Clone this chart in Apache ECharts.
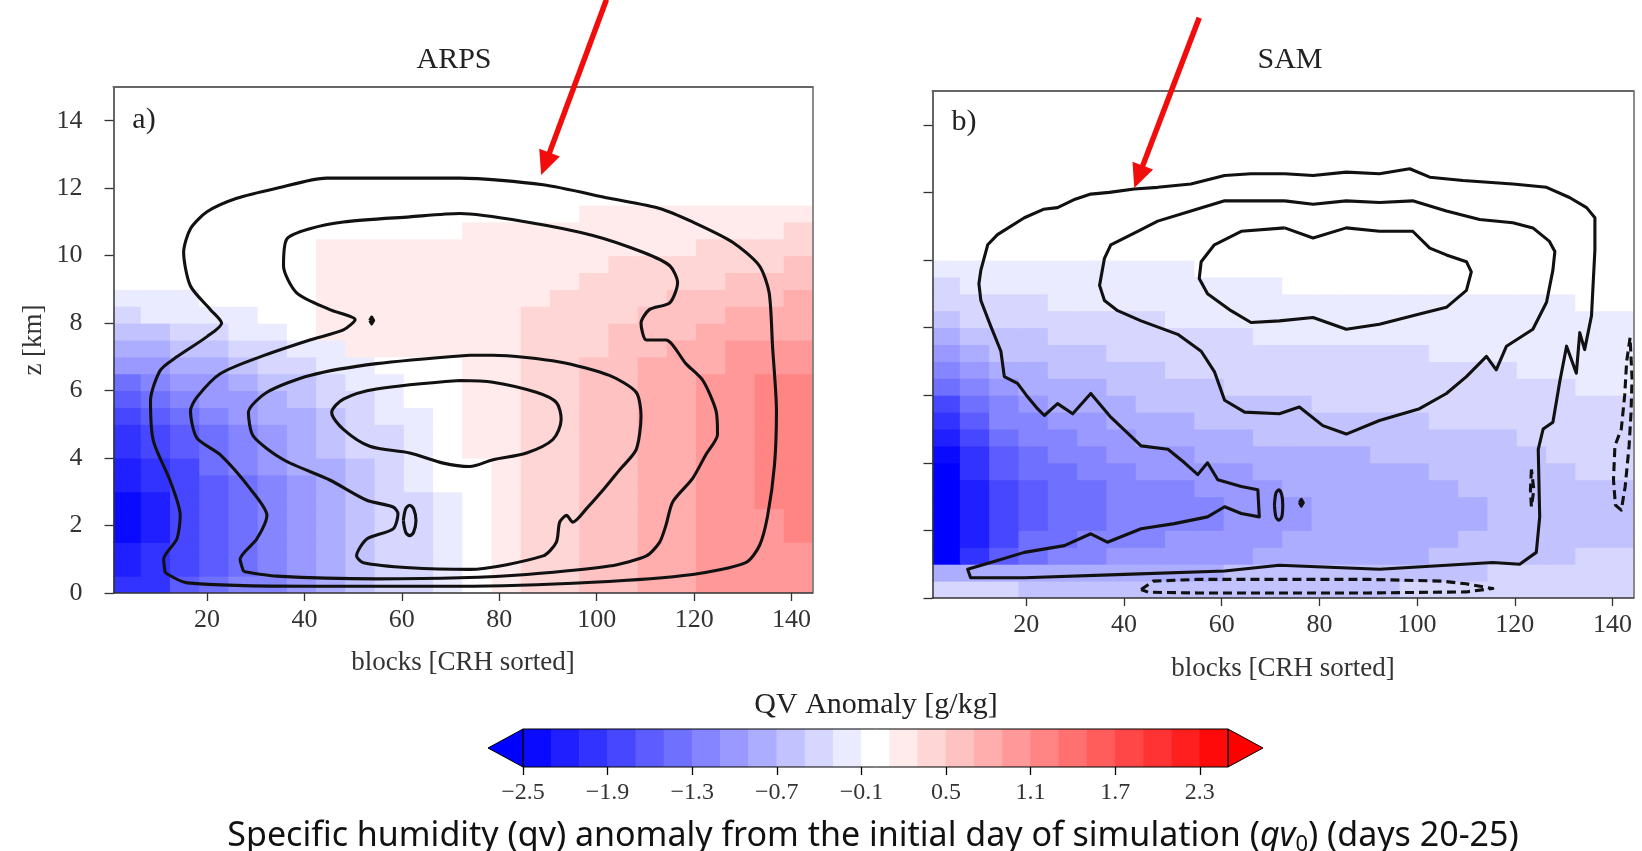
<!DOCTYPE html>
<html><head><meta charset="utf-8">
<script src="https://cdn.jsdelivr.net/npm/echarts@6/dist/echarts.min.js"></script>
<style>html,body{margin:0;padding:0;background:#fff}#c{width:1642px;height:851px}</style>
</head><body><div id="c"></div>
<script>
// ---------- data ----------
const xCenters = [3.5,9.5,15.5,21.5,27.5,33.5,39.5,45.5,51.5,57.5,63.5,69.5,75.5,81.5,87.5,93.5,99.5,105.5,111.5,117.5,123.5,129.5,135.5,141.5];
const zCenters = [0.25,0.75,1.25,1.75,2.25,2.75,3.25,3.75,4.25,4.75,5.25,5.75,6.25,6.75,7.25,7.75,8.25,8.75,9.25,9.75,10.25,10.75,11.25,11.75];
const xTickValues = [20,40,60,80,100,120,140];
const zTickValues = [0,2,4,6,8,10,12,14];
const qvLevels = [-2.5,-2.3,-2.1,-1.9,-1.7,-1.5,-1.3,-1.1,-0.9,-0.7,-0.5,-0.3,-0.1,0.1,0.3,0.5,0.7,0.9,1.1,1.3,1.5,1.7,1.9,2.1,2.3,2.5];
const cbTickValues = [-2.5,-1.9,-1.3,-0.7,-0.1,0.5,1.1,1.7,2.3];

// ARPS qv anomaly (rows = zCenters, cols = xCenters)
const arpsQV = [
[-2.1,-2.0,-1.7,-1.5,-1.3,-1.2,-1.0,-0.8,-0.6,-0.5,-0.35,-0.15,0.05,0.25,0.35,0.45,0.55,0.6,0.7,0.8,0.9,0.95,1.0,1.0],
[-2.2,-2.1,-1.8,-1.6,-1.4,-1.2,-1.0,-0.8,-0.6,-0.5,-0.35,-0.15,0.05,0.25,0.35,0.45,0.55,0.65,0.7,0.8,0.9,1.0,1.0,1.05],
[-2.3,-2.1,-1.8,-1.6,-1.4,-1.2,-1.0,-0.8,-0.6,-0.5,-0.35,-0.15,0.05,0.25,0.35,0.45,0.55,0.65,0.7,0.8,0.9,1.0,1.05,1.05],
[-2.4,-2.2,-1.9,-1.6,-1.4,-1.2,-1.0,-0.8,-0.6,-0.5,-0.35,-0.15,0.05,0.25,0.35,0.45,0.55,0.65,0.75,0.85,0.9,1.0,1.05,1.1],
[-2.4,-2.2,-1.9,-1.6,-1.4,-1.2,-1.0,-0.8,-0.6,-0.5,-0.35,-0.15,0.05,0.25,0.35,0.45,0.55,0.65,0.75,0.85,0.95,1.0,1.05,1.1],
[-2.4,-2.2,-1.9,-1.6,-1.4,-1.2,-1.0,-0.8,-0.6,-0.5,-0.35,-0.15,0.05,0.25,0.35,0.45,0.55,0.65,0.75,0.85,0.95,1.0,1.1,1.1],
[-2.3,-2.1,-1.8,-1.6,-1.4,-1.2,-1.0,-0.8,-0.6,-0.45,-0.3,-0.1,0.05,0.25,0.35,0.45,0.55,0.65,0.75,0.85,0.95,1.05,1.1,1.15],
[-2.2,-2.0,-1.8,-1.5,-1.3,-1.1,-0.9,-0.75,-0.55,-0.4,-0.25,-0.1,0.05,0.25,0.35,0.45,0.55,0.65,0.75,0.85,0.95,1.05,1.1,1.15],
[-2.1,-1.9,-1.7,-1.5,-1.3,-1.1,-0.9,-0.7,-0.5,-0.4,-0.25,-0.05,0.1,0.25,0.35,0.45,0.55,0.65,0.75,0.85,0.95,1.05,1.15,1.2],
[-2.0,-1.8,-1.6,-1.4,-1.2,-1.0,-0.85,-0.65,-0.5,-0.35,-0.2,-0.05,0.1,0.25,0.35,0.45,0.55,0.65,0.75,0.85,0.95,1.05,1.15,1.2],
[-1.8,-1.7,-1.5,-1.3,-1.1,-0.9,-0.75,-0.6,-0.45,-0.3,-0.15,0.0,0.1,0.25,0.3,0.4,0.5,0.6,0.7,0.8,0.9,1.0,1.1,1.15],
[-1.6,-1.5,-1.3,-1.1,-0.95,-0.8,-0.65,-0.5,-0.4,-0.25,-0.1,0.0,0.1,0.25,0.3,0.4,0.5,0.6,0.7,0.8,0.9,1.0,1.1,1.15],
[-1.4,-1.3,-1.1,-0.95,-0.8,-0.65,-0.55,-0.4,-0.3,-0.2,-0.05,0.05,0.15,0.25,0.3,0.4,0.5,0.6,0.7,0.8,0.9,1.0,1.1,1.15],
[-1.1,-1.0,-0.9,-0.75,-0.6,-0.5,-0.4,-0.3,-0.2,-0.1,0.0,0.05,0.15,0.25,0.3,0.4,0.5,0.6,0.7,0.75,0.85,0.95,1.05,1.05],
[-0.9,-0.8,-0.7,-0.55,-0.45,-0.35,-0.25,-0.15,0.15,0.15,0.15,0.15,0.2,0.25,0.3,0.35,0.45,0.55,0.65,0.7,0.8,0.9,0.95,0.95],
[-0.6,-0.55,-0.45,-0.35,-0.25,-0.15,-0.05,0.15,0.15,0.15,0.15,0.15,0.2,0.25,0.3,0.35,0.45,0.5,0.6,0.65,0.75,0.8,0.85,0.85],
[-0.35,-0.3,-0.25,-0.2,-0.15,-0.05,0.0,0.15,0.15,0.15,0.15,0.15,0.2,0.25,0.3,0.35,0.4,0.45,0.55,0.6,0.65,0.7,0.75,0.8],
[-0.15,-0.15,-0.15,-0.1,0.0,0.0,0.0,0.15,0.15,0.15,0.15,0.15,0.2,0.2,0.25,0.3,0.35,0.4,0.45,0.5,0.55,0.6,0.65,0.7],
[0,0,0,0,0,0,0,0.15,0.15,0.15,0.15,0.15,0.2,0.2,0.25,0.25,0.3,0.35,0.4,0.4,0.45,0.5,0.55,0.6],
[0,0,0,0,0,0,0,0.15,0.15,0.15,0.15,0.15,0.15,0.2,0.2,0.2,0.25,0.3,0.3,0.35,0.35,0.4,0.45,0.5],
[0,0,0,0,0,0,0,0.15,0.15,0.15,0.15,0.15,0.15,0.15,0.15,0.2,0.2,0.2,0.25,0.25,0.3,0.3,0.35,0.4],
[0,0,0,0,0,0,0,0,0,0,0,0,0.15,0.15,0.15,0.15,0.15,0.15,0.2,0.2,0.2,0.25,0.25,0.3],
[0,0,0,0,0,0,0,0,0,0,0,0,0,0.05,0.05,0.05,0.15,0.15,0.15,0.15,0.15,0.15,0.15,0.2],
[0,0,0,0,0,0,0,0,0,0,0,0,0,0,0,0,0,0,0,0,0,0,0,0]
];

// SAM qv anomaly
const samQV = [
[-0.35,-0.4,-0.5,-0.55,-0.6,-0.6,-0.6,-0.6,-0.6,-0.6,-0.6,-0.6,-0.55,-0.55,-0.55,-0.55,-0.5,-0.5,-0.45,-0.45,-0.4,-0.4,-0.4,-0.4],
[-0.9,-0.9,-0.9,-0.8,-0.8,-0.75,-0.75,-0.75,-0.75,-0.75,-0.7,-0.7,-0.7,-0.65,-0.65,-0.65,-0.6,-0.55,-0.55,-0.5,-0.5,-0.45,-0.45,-0.45],
[-2.6,-2.0,-1.6,-1.4,-1.3,-1.2,-1.1,-1.0,-1.0,-1.0,-0.95,-0.9,-0.85,-0.8,-0.8,-0.75,-0.75,-0.7,-0.65,-0.6,-0.6,-0.55,-0.5,-0.5],
[-2.7,-2.2,-1.8,-1.5,-1.4,-1.3,-1.2,-1.2,-1.1,-1.1,-1.0,-0.95,-0.9,-0.85,-0.85,-0.8,-0.8,-0.75,-0.7,-0.65,-0.65,-0.6,-0.55,-0.55],
[-2.7,-2.3,-1.9,-1.6,-1.5,-1.4,-1.3,-1.3,-1.2,-1.2,-1.1,-1.0,-0.95,-0.9,-0.9,-0.85,-0.85,-0.8,-0.75,-0.7,-0.7,-0.65,-0.6,-0.6],
[-2.7,-2.3,-1.9,-1.6,-1.5,-1.4,-1.3,-1.3,-1.2,-1.15,-1.1,-1.0,-0.95,-0.9,-0.9,-0.85,-0.85,-0.8,-0.75,-0.7,-0.7,-0.65,-0.6,-0.6],
[-2.7,-2.2,-1.8,-1.6,-1.45,-1.35,-1.25,-1.2,-1.15,-1.1,-1.0,-0.95,-0.9,-0.85,-0.85,-0.8,-0.8,-0.75,-0.7,-0.7,-0.65,-0.6,-0.55,-0.55],
[-2.6,-2.1,-1.7,-1.5,-1.4,-1.3,-1.2,-1.1,-1.05,-1.0,-0.95,-0.9,-0.85,-0.8,-0.8,-0.75,-0.75,-0.7,-0.65,-0.65,-0.6,-0.55,-0.5,-0.5],
[-2.5,-2.0,-1.6,-1.4,-1.3,-1.2,-1.1,-1.0,-0.95,-0.9,-0.85,-0.8,-0.8,-0.75,-0.75,-0.7,-0.7,-0.65,-0.6,-0.6,-0.55,-0.5,-0.5,-0.45],
[-2.3,-1.8,-1.5,-1.3,-1.2,-1.1,-1.0,-0.9,-0.85,-0.8,-0.75,-0.7,-0.7,-0.65,-0.65,-0.65,-0.6,-0.6,-0.55,-0.55,-0.5,-0.45,-0.45,-0.4],
[-2.1,-1.6,-1.3,-1.15,-1.05,-0.95,-0.9,-0.8,-0.75,-0.7,-0.65,-0.65,-0.6,-0.6,-0.6,-0.55,-0.55,-0.5,-0.5,-0.5,-0.45,-0.4,-0.4,-0.4],
[-1.8,-1.4,-1.15,-1.0,-0.9,-0.85,-0.8,-0.7,-0.65,-0.6,-0.6,-0.55,-0.55,-0.5,-0.5,-0.5,-0.5,-0.45,-0.45,-0.45,-0.4,-0.4,-0.35,-0.35],
[-1.5,-1.2,-1.0,-0.9,-0.8,-0.75,-0.7,-0.6,-0.55,-0.55,-0.5,-0.5,-0.45,-0.45,-0.45,-0.45,-0.45,-0.4,-0.4,-0.4,-0.35,-0.35,-0.3,-0.3],
[-1.2,-1.0,-0.85,-0.75,-0.7,-0.65,-0.6,-0.55,-0.5,-0.45,-0.45,-0.4,-0.4,-0.4,-0.4,-0.4,-0.4,-0.35,-0.35,-0.35,-0.3,-0.3,-0.25,-0.25],
[-1.0,-0.8,-0.7,-0.65,-0.6,-0.55,-0.5,-0.45,-0.45,-0.4,-0.4,-0.35,-0.35,-0.35,-0.35,-0.35,-0.35,-0.3,-0.3,-0.3,-0.25,-0.25,-0.2,-0.2],
[-0.8,-0.65,-0.6,-0.55,-0.5,-0.45,-0.45,-0.4,-0.4,-0.35,-0.35,-0.3,-0.3,-0.3,-0.3,-0.3,-0.3,-0.25,-0.25,-0.25,-0.2,-0.2,-0.2,-0.2],
[-0.6,-0.5,-0.45,-0.45,-0.4,-0.4,-0.35,-0.35,-0.3,-0.3,-0.3,-0.25,-0.25,-0.25,-0.25,-0.25,-0.25,-0.2,-0.2,-0.2,-0.2,-0.15,-0.15,-0.15],
[-0.45,-0.4,-0.35,-0.35,-0.3,-0.3,-0.3,-0.25,-0.25,-0.25,-0.2,-0.2,-0.15,-0.15,-0.15,-0.15,-0.15,-0.15,-0.15,-0.15,-0.15,-0.15,-0.05,-0.05],
[-0.35,-0.3,-0.25,-0.25,-0.2,-0.2,-0.2,-0.2,-0.2,-0.15,-0.15,-0.15,0,0,0,0,0,0,0,0,0,0,0,0],
[-0.2,-0.15,-0.15,-0.15,-0.15,-0.15,-0.15,-0.15,-0.15,0,0,0,0,0,0,0,0,0,0,0,0,0,0,0],
[0,0,0,0,0,0,0,0,0,0,0,0,0,0,0,0,0,0,0,0,0,0,0,0],
[0,0,0,0,0,0,0,0,0,0,0,0,0,0,0,0,0,0,0,0,0,0,0,0],
[0,0,0,0,0,0,0,0,0,0,0,0,0,0,0,0,0,0,0,0,0,0,0,0],
[0,0,0,0,0,0,0,0,0,0,0,0,0,0,0,0,0,0,0,0,0,0,0,0]
];

// ARPS contour lines [block, z km]
const arpsC1 = [[11.4,0.6],[11.1,1.0],[13.8,1.6],[14.5,2.3],[12.5,3.3],[9.0,4.5],[8.4,5.7],[10.4,6.6],[13.8,7.0],[20,7.6],[23,8.0],[20.7,8.4],[16.6,9.1],[15.2,10.1],[16.6,10.8],[20,11.3],[26.1,11.7],[34.3,12.0],[44.5,12.3],[60,12.3],[71.9,12.3],[89,12.1],[102.6,11.7],[112.9,11.4],[119.7,11.0],[127.9,10.4],[133.4,9.7],[135.4,8.9],[136.1,7.3],[136.9,5.4],[136.5,3.8],[135.1,2.3],[133.4,1.4],[130.6,0.9],[119.7,0.55],[99.2,0.32],[71.9,0.2],[41.1,0.2],[15.9,0.3],[11.4,0.6]];
const arpsC2 = [[27.5,0.64],[26.8,1.0],[30.2,1.6],[32.3,2.3],[28.8,3.1],[22.7,4.1],[17.9,4.6],[16.6,5.4],[17.9,5.8],[22.7,6.5],[30.9,7.0],[41.1,7.5],[48,7.8],[50.4,8.1],[45.2,8.4],[38.4,8.9],[35.7,9.7],[36.4,10.5],[41.1,10.8],[48,11.0],[61.6,11.15],[71.9,11.25],[85.6,11.0],[99.2,10.6],[109.5,10.1],[115,9.7],[116.6,9.2],[115,8.6],[110.8,8.4],[109.1,8.0],[110.2,7.5],[114.2,7.5],[118.3,6.8],[121.8,6.3],[124.5,5.4],[124.8,4.7],[122.4,4.1],[119.7,3.4],[115.6,2.7],[114.2,2.0],[112.9,1.5],[110.2,1.1],[102.6,0.8],[85.6,0.55],[71.9,0.45],[54.8,0.42],[34.3,0.5],[27.5,0.64]];
const arpsC3 = [[73.9,7.05],[54.8,6.8],[41.1,6.45],[32.3,5.95],[28.5,5.35],[29.5,4.65],[35.7,3.95],[45.2,3.35],[52.8,2.75],[58.2,2.55],[59.2,2.35],[58.2,1.9],[52.8,1.6],[50.7,1.1],[52.1,0.9],[61.6,0.75],[73.9,0.7],[89,1.1],[91.7,1.5],[92.4,2.1],[93.8,2.3],[95.1,2.1],[97.9,2.5],[101.3,3.05],[104.7,3.65],[108.1,4.25],[109.1,5.25],[108.1,5.95],[102.6,6.45],[92.4,6.85],[78.7,7.05],[73.9,7.05]];
const arpsC4 = [[71.9,6.3],[54.8,6.05],[48,5.75],[45.6,5.35],[48,4.85],[53.4,4.35],[61.6,4.15],[68.5,3.85],[73.9,3.75],[78.7,3.95],[85.6,4.15],[91,4.55],[92.7,5.15],[91.7,5.65],[87.6,5.95],[78.7,6.25],[71.9,6.3]];
const arpsC5 = [[60.3,2.15],[60.8,2.5],[61.6,2.6],[62.4,2.5],[62.9,2.15],[62.4,1.8],[61.6,1.7],[60.8,1.8],[60.3,2.15]];
const arpsC6 = [[53.4,8.08],[53.8,8.18],[54.2,8.08],[53.8,7.98],[53.4,8.08]];

// SAM contour lines
const samC1 = [[72.9,12.55],[66,12.55],[60.6,12.5],[53.7,12.25],[46.9,12.15],[42.1,12.1],[37,12.0],[33.2,11.95],[30,11.8],[26.4,11.55],[23.5,11.5],[19.6,11.25],[14.1,10.75],[12.1,10.45],[10.7,9.7],[10.3,9.3],[10.7,8.8],[12.7,8.05],[14.8,7.3],[15.5,6.55],[18.2,6.35],[20,6.0],[22.3,5.6],[23.7,5.4],[26.4,5.75],[29.5,5.45],[33.2,6.05],[37.3,5.35],[43.5,4.5],[49,4.4],[52.4,4.0],[55.1,3.65],[57.1,4.0],[59.2,3.5],[64,3.3],[67.4,3.2],[67.7,2.4],[64,2.5],[60.6,2.7],[57.1,2.4],[50.3,2.2],[43.5,2.05],[36.6,1.65],[33.2,1.9],[27.8,1.55],[19.6,1.35],[12.7,1.05],[8,0.85],[8.6,0.6],[19.6,0.6],[40.1,0.7],[60.6,0.8],[71.8,0.97],[92.3,0.85],[115.5,1.05],[121,1.0],[124.4,1.35],[125.1,2.4],[124.8,4.4],[125.8,5.0],[127.8,5.2],[129.2,6.4],[130.6,7.45],[132.6,6.65],[133.3,7.85],[134.3,7.35],[135.7,8.35],[136.4,10.3],[136.4,11.25],[134.7,11.55],[131.2,11.85],[126.5,12.15],[119.6,12.25],[109.4,12.35],[102.6,12.45],[98.5,12.7],[92.3,12.55],[85.5,12.6],[78.7,12.5],[72.9,12.55]];
const samC2 = [[72.9,11.75],[60.6,11.75],[53.7,11.45],[46.9,11.15],[42.8,10.85],[37.3,10.45],[36,10.05],[35,9.25],[36,8.8],[38.7,8.5],[43.5,8.2],[51,7.8],[55.8,7.3],[58.5,6.7],[60.6,5.85],[64.7,5.5],[71.8,5.45],[75.9,5.65],[80.7,5.1],[85.5,4.85],[92.3,5.25],[100.5,5.6],[106,6.05],[110.1,6.55],[114.2,7.15],[116.2,6.75],[118.3,7.45],[123.7,7.95],[126.5,8.75],[127.8,9.7],[128.2,10.25],[127.1,10.55],[123.7,10.95],[119.6,11.1],[112.8,11.2],[106,11.45],[99.1,11.75],[92.3,11.7],[85.5,11.75],[78.7,11.65],[72.9,11.75]];
const samC3 = [[72.9,10.95],[64,10.85],[58.5,10.45],[55.8,9.95],[55.4,9.45],[57.1,9.0],[61.9,8.5],[66,8.15],[71.8,8.2],[78.7,8.3],[85.5,7.95],[92.3,8.1],[100.5,8.4],[106,8.6],[110.1,9.1],[111.1,9.65],[110.1,9.95],[106,10.15],[102.6,10.35],[99.1,10.85],[92.3,10.85],[85.5,10.95],[78.7,10.65],[72.9,10.95]];
const samC4 = [[70.8,2.75],[71.1,3.1],[71.7,3.2],[72.3,3.05],[72.5,2.75],[72.3,2.4],[71.7,2.3],[71.1,2.4],[70.8,2.75]];
const samC5 = [[75.9,2.82],[76.3,2.92],[76.7,2.82],[76.3,2.72],[75.9,2.82]];
// SAM negative (dashed) contours
const samD1 = [[43.5,0.25],[46,0.5],[55,0.55],[72,0.55],[90,0.55],[105,0.5],[110,0.42],[115.5,0.28],[110,0.18],[90,0.15],[70,0.15],[55,0.15],[45,0.17],[43.5,0.25]];
const samD2 = [[143.6,7.7],[142.9,7.0],[142.5,6.0],[141.8,5.0],[140.5,4.5],[140.2,3.5],[140.6,2.75],[141.8,2.6],[142.6,3.3],[143.4,4.5],[143.8,5.5],[144,6.5],[143.6,7.7]];
const samD3 = [[123.4,3.8],[123.2,3.2],[123.4,2.7],[123.9,3.2],[123.4,3.8]];

// annotation arrows [tailX, tailZ, tipX, tipZ]
const arpsArrow = [102, 17.59, 88.6, 12.39];
const samArrow = [55.4, 17.17, 42.1, 12.13];

// ---------- helpers ----------
const SERIF = '"Liberation Serif", "Times New Roman", serif';
const SANS = '"Noto Sans", "Open Sans", sans-serif';
const CW = xCenters[1] - xCenters[0];
const CH = zCenters[1] - zCenters[0];
function bwr(t) {
  t = Math.max(0, Math.min(1, t));
  let r, g, b;
  if (t < 0.5) { r = g = Math.round(255 * 2 * t); b = 255; }
  else { r = 255; g = b = Math.round(255 * (2 - 2 * t)); }
  return 'rgb(' + r + ',' + g + ',' + b + ')';
}
const lo0 = qvLevels[0], hiN = qvLevels[qvLevels.length - 1];
const pieces = [{ lt: lo0, color: bwr(0) }];
for (let i = 0; i < qvLevels.length - 1; i++) {
  const mid = (qvLevels[i] + qvLevels[i + 1]) / 2;
  pieces.push({ gte: qvLevels[i], lt: qvLevels[i + 1], color: bwr((mid - lo0) / (hiN - lo0)) });
}
pieces.push({ gte: hiN, color: bwr(1) });

function cells(field) {
  const out = [];
  field.forEach((row, i) => row.forEach((v, j) => out.push([xCenters[j], zCenters[i], v])));
  return out;
}
function renderCell(params, api) {
  const x = api.value(0), z = api.value(1);
  const p0 = api.coord([x - CW / 2, z + CH / 2]);
  const p1 = api.coord([x + CW / 2, z - CH / 2]);
  const cs = params.coordSys;
  const shape = echarts.graphic.clipRectByRect(
    { x: p0[0] - 0.5, y: p0[1] - 0.5, width: p1[0] - p0[0] + 1, height: p1[1] - p0[1] + 1 },
    { x: cs.x, y: cs.y, width: cs.width, height: cs.height });
  if (!shape) return;
  return { type: 'rect', shape: shape, style: { fill: api.visual('color') } };
}
const cbData = [];
for (let i = 0; i < qvLevels.length - 1; i++) cbData.push([qvLevels[i], qvLevels[i + 1], (qvLevels[i] + qvLevels[i + 1]) / 2, 0]);
cbData.push([lo0, lo0, lo0 - 0.1, -1]);
cbData.push([hiN, hiN, hiN + 0.1, 1]);
cbData.push([lo0, hiN, 0, 2]);
const TRI = 35;
function renderCb(params, api) {
  const lo = api.value(0), hi = api.value(1), kind = api.value(3);
  const top = api.coord([lo, 1])[1], bot = api.coord([lo, 0])[1];
  const xl = api.coord([lo, 0])[0], xh = api.coord([hi, 0])[0];
  if (kind === 0) {
    return { type: 'rect', shape: { x: xl - 0.3, y: top, width: xh - xl + 0.6, height: bot - top }, style: { fill: api.visual('color') } };
  }
  if (kind === 2) {
    return { type: 'rect', shape: { x: xl, y: top, width: xh - xl, height: bot - top }, style: { fill: null, stroke: '#000', lineWidth: 1 } };
  }
  const tip = xl + kind * TRI;
  return { type: 'polygon', shape: { points: [[xl, top], [tip, (top + bot) / 2], [xl, bot]] }, style: { fill: api.visual('color'), stroke: '#000', lineWidth: 1 } };
}
function renderArrow(params, api) {
  const a = api.coord([api.value(0), api.value(1)]);
  const b = api.coord([api.value(2), api.value(3)]);
  const dx = b[0] - a[0], dy = b[1] - a[1], L = Math.hypot(dx, dy), ux = dx / L, uy = dy / L;
  const HL = 24, HW = 11;
  const bx = b[0] - ux * HL, by = b[1] - uy * HL;
  return { type: 'group', children: [
    { type: 'line', shape: { x1: a[0], y1: a[1], x2: bx + ux * 3, y2: by + uy * 3 }, style: { stroke: '#f20d0d', lineWidth: 5.5 } },
    { type: 'polygon', shape: { points: [[b[0], b[1]], [bx - uy * HW, by + ux * HW], [bx + uy * HW, by - ux * HW]] }, style: { fill: '#f20d0d' } }
  ] };
}
function contour(pts, xi, yi, dashed, smooth) {
  return { type: 'line', xAxisIndex: xi, yAxisIndex: yi, data: pts, symbol: 'none', showSymbol: false,
    smooth: smooth || false, silent: true, animation: false, z: 5, clip: true,
    lineStyle: { color: '#111', width: 3.1, type: dashed ? [9, 5] : 'solid', join: 'round' } };
}
const tickLabel = { fontFamily: SERIF, fontSize: 26, color: '#333' };
function bottomX(grid) {
  return { type: 'value', gridIndex: grid, position: 'bottom', min: 0.8, max: 144.3, z: 6,
    name: 'blocks [CRH sorted]', nameLocation: 'middle', nameGap: grid === 0 ? 56 : 57,
    nameTextStyle: { fontFamily: SERIF, fontSize: 27, color: '#333' },
    axisLine: { show: true, onZero: false, lineStyle: { color: '#333', width: 1.5 } },
    axisTick: { show: true, length: 8, customValues: xTickValues, lineStyle: { color: '#333', width: 1.3 } },
    axisLabel: Object.assign({ show: true, margin: 14, customValues: xTickValues }, tickLabel),
    splitLine: { show: false } };
}
function topX(grid) {
  return { type: 'value', gridIndex: grid, position: 'top', min: 0.8, max: 144.3, z: 6,
    axisLine: { show: true, onZero: false, lineStyle: { color: '#666', width: 2 } },
    axisTick: { show: false }, axisLabel: { show: false }, splitLine: { show: false } };
}
function leftY(grid, labels) {
  const o = { type: 'value', gridIndex: grid, position: 'left', min: 0, max: 15, z: 6,
    axisLine: { show: true, onZero: false, lineStyle: { color: '#333', width: 1.5 } },
    axisTick: { show: true, length: 9, customValues: zTickValues, lineStyle: { color: '#333', width: 1.3 } },
    axisLabel: Object.assign({ show: labels, margin: 31, customValues: zTickValues }, tickLabel),
    splitLine: { show: false } };
  if (labels) {
    o.name = 'z [km]'; o.nameLocation = 'middle'; o.nameGap = 66;
    o.nameTextStyle = { fontFamily: SERIF, fontSize: 27, color: '#333' };
  }
  return o;
}
function rightY(grid) {
  return { type: 'value', gridIndex: grid, position: 'right', min: 0, max: 15, z: 6,
    axisLine: { show: true, onZero: false, lineStyle: { color: '#666', width: 1.5 } },
    axisTick: { show: false }, axisLabel: { show: false }, splitLine: { show: false } };
}

const chart = echarts.init(document.getElementById('c'), null, { renderer: 'canvas' });
chart.setOption({
  animation: false,
  backgroundColor: '#fff',
  grid: [
    { left: 113.5, top: 87, width: 699, height: 506 },
    { left: 932.5, top: 91, width: 701, height: 507 },
    { left: 523, top: 729, width: 705, height: 38 }
  ],
  xAxis: [
    bottomX(0), topX(0), bottomX(1), topX(1),
    { type: 'value', gridIndex: 2, min: lo0, max: hiN, position: 'bottom',
      axisLine: { show: false },
      axisTick: { show: true, length: 8, customValues: cbTickValues, lineStyle: { color: '#000', width: 1.3 } },
      axisLabel: { show: true, margin: 14, customValues: cbTickValues, fontFamily: SERIF, fontSize: 24, color: '#333',
        formatter: v => (v < 0 ? '\u2212' : '') + Math.abs(v).toFixed(1) },
      splitLine: { show: false } }
  ],
  yAxis: [
    leftY(0, true), rightY(0), leftY(1, false), rightY(1),
    { type: 'value', gridIndex: 2, min: 0, max: 1, show: false }
  ],
  visualMap: { type: 'piecewise', show: false, dimension: 2, seriesIndex: [0, 1, 2], pieces: pieces },
  series: [
    { type: 'custom', xAxisIndex: 0, yAxisIndex: 0, data: cells(arpsQV), renderItem: renderCell, encode: { x: 0, y: 1 }, clip: true, silent: true, z: 1 },
    { type: 'custom', xAxisIndex: 2, yAxisIndex: 2, data: cells(samQV), renderItem: renderCell, encode: { x: 0, y: 1 }, clip: true, silent: true, z: 1 },
    { type: 'custom', xAxisIndex: 4, yAxisIndex: 4, data: cbData, renderItem: renderCb, encode: { x: [0, 1] }, clip: false, silent: true, z: 1 },
    contour(arpsC1, 0, 0, false, 0.25), contour(arpsC2, 0, 0, false, 0.25), contour(arpsC3, 0, 0, false, 0.25), contour(arpsC4, 0, 0, false, 0.3), contour(arpsC5, 0, 0, false, 0.3), contour(arpsC6, 0, 0),
    contour(samC1, 2, 2), contour(samC2, 2, 2), contour(samC3, 2, 2), contour(samC4, 2, 2, false, 0.3), contour(samC5, 2, 2),
    contour(samD1, 2, 2, true), contour(samD2, 2, 2, true), contour(samD3, 2, 2, true),
    { type: 'custom', xAxisIndex: 0, yAxisIndex: 0, data: [arpsArrow], renderItem: renderArrow, encode: { x: [0, 2], y: [1, 3] }, clip: false, silent: true, z: 20 },
    { type: 'custom', xAxisIndex: 2, yAxisIndex: 2, data: [samArrow], renderItem: renderArrow, encode: { x: [0, 2], y: [1, 3] }, clip: false, silent: true, z: 20 }
  ],
  graphic: [
    { type: 'text', x: 454, y: 60, style: { text: 'ARPS', fontFamily: SERIF, fontSize: 30, fill: '#222', align: 'center', verticalAlign: 'middle' } },
    { type: 'text', x: 1290, y: 60, style: { text: 'SAM', fontFamily: SERIF, fontSize: 30, fill: '#222', align: 'center', verticalAlign: 'middle' } },
    { type: 'text', x: 144, y: 120, z: 30, style: { text: 'a)', fontFamily: SERIF, fontSize: 30, fill: '#222', align: 'center', verticalAlign: 'middle' } },
    { type: 'text', x: 964, y: 122, z: 30, style: { text: 'b)', fontFamily: SERIF, fontSize: 30, fill: '#222', align: 'center', verticalAlign: 'middle' } },
    { type: 'text', x: 876, y: 705, style: { text: 'QV Anomaly [g/kg]', fontFamily: SERIF, fontSize: 30, fill: '#222', align: 'center', verticalAlign: 'middle' } },
    { type: 'text', x: 873, y: 836, style: {
      text: '{n|Specific humidity (qv) anomaly from the initial day of simulation (}{i|qv}{s|0}{n|) (days 20-25)}',
      align: 'center', verticalAlign: 'middle',
      rich: {
        n: { fontFamily: SANS, fontSize: 34, fill: '#111' },
        i: { fontFamily: SANS, fontSize: 34, fontStyle: 'italic', fill: '#111' },
        s: { fontFamily: SANS, fontSize: 22, fill: '#111', padding: [18, 0, 0, 0] }
      } } }
  ]
});
</script></body></html>
